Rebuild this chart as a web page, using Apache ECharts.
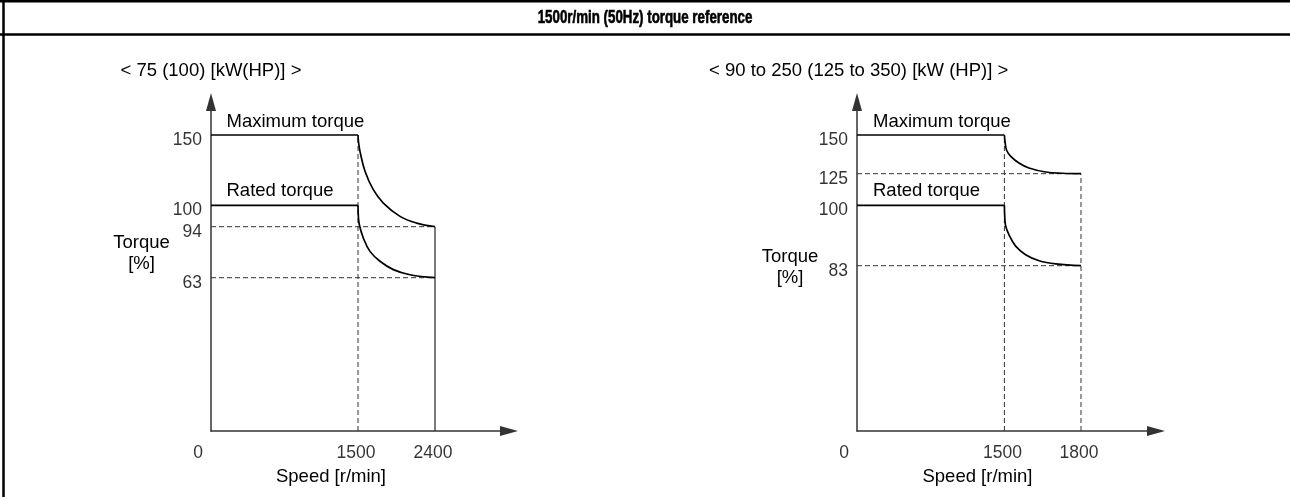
<!DOCTYPE html>
<html><head><meta charset="utf-8">
<script src="https://cdn.jsdelivr.net/npm/echarts@6/dist/echarts.min.js"></script>
<style>html,body{margin:0;padding:0;background:#fff}#c{width:1290px;height:497px}</style>
</head><body><div id="c"></div>
<script>
// ---------------- data ----------------
const titleText = '1500r/min (50Hz) torque reference';
const panelTitles = ['< 75 (100) [kW(HP)] >', '< 90 to 250 (125 to 350) [kW (HP)] >'];
const yAxisNameText = 'Torque\n[%]';
const xAxisNameText = 'Speed [r/min]';
const curveNames = ['Maximum torque', 'Rated torque'];

// left panel: < 75 kW
const speedTicksL = [0, 1500, 2400];
const torqueTicksL = [150, 100, 94, 63];
const maxCurveL = [[0,150],[1500,150],[1505,145.5],[1523,138.4],[1582,124.2],[1679,111.1],[1796,101.6],[1991,96.9],[2186,95],[2400,94]];
const ratedCurveL = [[0,100],[1500,100],[1504,97],[1515,94.6],[1562,87.1],[1640,79],[1757,73],[1913,67.9],[2108,64.8],[2400,63]];

// right panel: 90 to 250 kW
const speedTicksR = [0, 1500, 1800];
const torqueTicksR = [150, 125, 100, 83];
const maxCurveR = [[0,150],[1500,150],[1503,145],[1509,140],[1525,136.2],[1557,131.9],[1596,128.7],[1662,126.1],[1727,125.3],[1800,125]];
const ratedCurveR = [[0,100],[1500,100],[1501,97.5],[1504,94.5],[1518,91.7],[1544,88.5],[1583,86.1],[1636,84.4],[1701,83.5],[1800,83]];

// ---------------- layout (schematic, non-linear axis scales) ----------------
const FONT = '"Liberation Sans", Arial, sans-serif';
const gridTop = 102, gridBottomPx = 431;
const gridH = gridBottomPx - gridTop;
const panels = [
  { left: 211, width: 298,
    xAnch: [[0,0],[1500,147],[2400,224]],
    yAnch: [[0,0],[63,153.3],[94,204.3],[100,225.7],[150,296]],
    speedTicks: speedTicksL, torqueTicks: torqueTicksL, maxC: maxCurveL, ratC: ratedCurveL,
    solidEnd: true,
    sub: {x: 120.5, y: 71}, maxLbl: {x: 226.5, y: 121.5}, ratLbl: {x: 226.5, y: 190.5},
    yName: {x: 141.5, y: 253}, xName: {x: 331, y: 476.5} },
  { left: 857, width: 299,
    xAnch: [[0,0],[1500,147.4],[1800,224]],
    yAnch: [[0,0],[83,165.3],[100,225.7],[125,257.3],[150,296]],
    speedTicks: speedTicksR, torqueTicks: torqueTicksR, maxC: maxCurveR, ratC: ratedCurveR,
    solidEnd: false,
    sub: {x: 709, y: 71}, maxLbl: {x: 873, y: 121.5}, ratLbl: {x: 873, y: 190.5},
    yName: {x: 790, y: 267}, xName: {x: 977.5, y: 476.5} }
];

function interp(v, anch) {
  for (let i = 0; i < anch.length - 1; i++) {
    const [a0, d0] = anch[i], [a1, d1] = anch[i + 1];
    if (v <= a1 || i === anch.length - 2) return d0 + (v - a0) / (a1 - a0) * (d1 - d0);
  }
}

const grids = [], xAxes = [], yAxes = [], series = [], graphics = [];
const axisLineStyle = { color: '#333', width: 1.5 };
const dashStyle = { color: '#333', width: 1, type: [5, 3] };
const solidStyle = { color: '#000', width: 1.7 };

panels.forEach((p, i) => {
  const mp = pt => [interp(pt[0], p.xAnch), interp(pt[1], p.yAnch)];
  grids.push({ left: p.left, top: gridTop, width: p.width, height: gridH });
  const axisCommon = {
    type: 'value', min: 0, gridIndex: i,
    axisLine: { show: true, lineStyle: axisLineStyle, symbol: ['none', 'triangle'], symbolSize: [10, 18] },
    axisTick: { show: false }, axisLabel: { show: false }, splitLine: { show: false }
  };
  xAxes.push(Object.assign({}, axisCommon, { max: p.width }));
  yAxes.push(Object.assign({}, axisCommon, { max: gridH }));

  const line = (data, style, smooth) => ({
    type: 'line', xAxisIndex: i, yAxisIndex: i, data: data.map(mp), symbol: 'none',
    smooth: smooth ? 0.4 : false,
    lineStyle: style, silent: true, animation: false, z: style.type ? 2 : 3
  });
  const maxEnd = p.maxC[p.maxC.length - 1], ratEnd = p.ratC[p.ratC.length - 1];
  const knee = p.maxC[1];
  // dashed reference lines
  series.push(line([[knee[0], 0], [knee[0], knee[1]]], dashStyle));
  series.push(line([[0, maxEnd[1]], maxEnd], dashStyle));
  series.push(line([[0, ratEnd[1]], ratEnd], dashStyle));
  if (p.solidEnd) series.push(line([[maxEnd[0], 0], maxEnd], { color: '#333', width: 1.3 }));
  else series.push(line([[maxEnd[0], 0], maxEnd], dashStyle));
  // torque curves
  series.push(line(p.maxC.slice(0, 2), solidStyle));
  series.push(line(p.maxC.slice(1), solidStyle, true));
  series.push(line(p.ratC.slice(0, 2), solidStyle));
  series.push(line(p.ratC.slice(1), solidStyle, true));
  // tick labels
  series.push({
    type: 'scatter', xAxisIndex: i, yAxisIndex: i, symbolSize: 0, silent: true, animation: false,
    data: p.torqueTicks.map(t => ({ value: mp([0, t]), name: String(t) })),
    label: { show: true, position: 'left', distance: 9, offset: [0, 5], formatter: '{b}',
             color: '#000', fontSize: 17.5, fontFamily: FONT }
  });
  series.push({
    type: 'scatter', xAxisIndex: i, yAxisIndex: i, symbolSize: 0, silent: true, animation: false,
    data: p.speedTicks.map(s => ({ value: mp([s, 0]), name: String(s),
      label: { offset: s === 0 ? [-13, 0] : [-2, 0] } })),
    label: { show: true, position: 'bottom', distance: 13, formatter: '{b}',
             color: '#000', fontSize: 17.5, fontFamily: FONT }
  });

  const txt = (x, y, text, align) => ({
    type: 'text', x: x, y: y, silent: true,
    style: { text: text, fill: '#000', font: '18.5px ' + FONT, textAlign: align || 'left',
             textVerticalAlign: 'middle', lineHeight: 21 }
  });
  graphics.push(txt(p.sub.x, p.sub.y, panelTitles[i]));
  graphics.push(txt(p.maxLbl.x, p.maxLbl.y, curveNames[0]));
  graphics.push(txt(p.ratLbl.x, p.ratLbl.y, curveNames[1]));
  graphics.push(txt(p.yName.x, p.yName.y, yAxisNameText, 'center'));
  graphics.push(txt(p.xName.x, p.xName.y, xAxisNameText, 'center'));
});

// frame
graphics.push({ type: 'line', silent: true, shape: { x1: 0, y1: 1.2, x2: 1290, y2: 1.2 }, style: { stroke: '#000', lineWidth: 2.5 } });
graphics.push({ type: 'line', silent: true, shape: { x1: 0, y1: 34.5, x2: 1290, y2: 34.5 }, style: { stroke: '#000', lineWidth: 2.5 } });
graphics.push({ type: 'line', silent: true, shape: { x1: 3.5, y1: 0, x2: 3.5, y2: 497 }, style: { stroke: '#000', lineWidth: 2.5 } });
// condensed bold title
graphics.push({ type: 'text', x: 645, y: 18, scaleX: 0.74, silent: true,
  style: { text: titleText, fill: '#000', font: 'bold 18px ' + FONT, textAlign: 'center', textVerticalAlign: 'middle',
           stroke: '#000', lineWidth: 0.6 } });

const chart = echarts.init(document.getElementById('c'), null, { renderer: 'canvas' });
chart.setOption({
  animation: false,
  backgroundColor: '#fff',
  grid: grids, xAxis: xAxes, yAxis: yAxes, series: series, graphic: graphics
});
</script></body></html>
